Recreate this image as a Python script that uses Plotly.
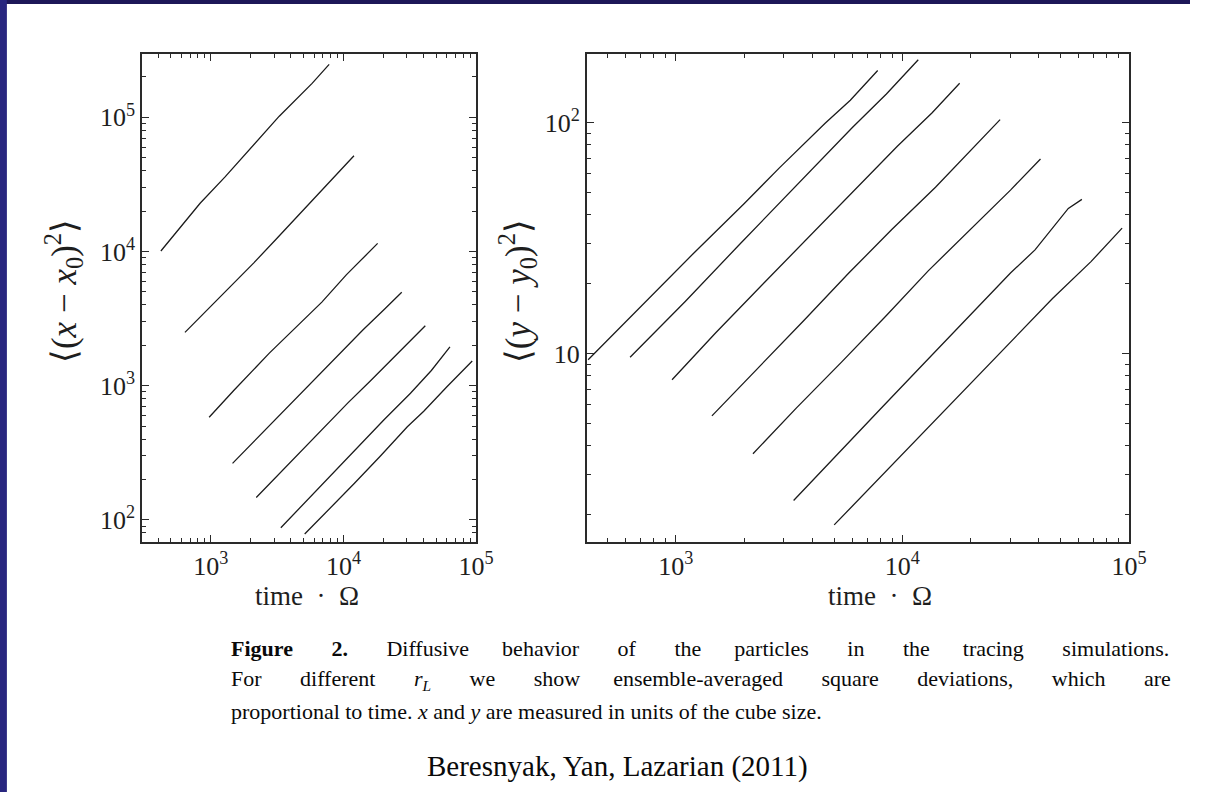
import plotly.graph_objects as go

# ---------------- data ----------------
# left panel: <(x-x0)^2> vs time*Omega, one run per r_L
xl_t1 = [420, 600, 830, 1280, 2000, 3280, 5800, 7800]
xl_v1 = [1.01e4, 1.55e4, 2.29e4, 3.6e4, 5.9e4, 1.02e5, 1.79e5, 2.48e5]
xl_t2 = [638, 950, 1390, 2100, 3090, 4400, 6140, 8600, 12000]
xl_v2 = [2.5e3, 3.7e3, 5.47e3, 8.2e3, 1.23e4, 1.78e4, 2.56e4, 3.65e4, 5.17e4]
xl_t3 = [971, 1500, 2760, 4500, 6870, 10500, 18100]
xl_v3 = [582, 930, 1.75e3, 2.8e3, 4.2e3, 6.7e3, 1.15e4]
xl_t4 = [1457, 2300, 3700, 6000, 9500, 14000, 20000, 27500]
xl_v4 = [264, 420, 680, 1.1e3, 1.75e3, 2.6e3, 3.65e3, 4.97e3]
xl_t5 = [2200, 3500, 5500, 8000, 10800, 16000, 26000, 41400]
xl_v5 = [147, 236, 375, 548, 745, 1.09e3, 1.76e3, 2.8e3]
xl_t6 = [3370, 5200, 8000, 12500, 20300, 32000, 46000, 63500]
xl_v6 = [87.5, 137, 215, 335, 560, 880, 1.3e3, 1.95e3]
xl_t7 = [5100, 7800, 12000, 19000, 30300, 40300, 60000, 93500]
xl_v7 = [78.5, 120, 186, 300, 495, 645, 980, 1.53e3]

# right panel: <(y-y0)^2> vs time*Omega
yr_t1 = [410, 700, 1217, 2000, 2857, 4560, 5890, 7780]
yr_v1 = [9.4, 16, 27.6, 44.5, 63.5, 99.4, 125, 168]
yr_t2 = [628, 1100, 1900, 3770, 6000, 8500, 11750]
yr_v2 = [9.64, 16.8, 29.5, 59.4, 95, 133, 187]
yr_t3 = [962, 1500, 2400, 3800, 6000, 9500, 13500, 17900]
yr_v3 = [7.7, 12.3, 19.8, 31.5, 50, 79, 110, 148]
yr_t4 = [1443, 2300, 3700, 5800, 9000, 14000, 20000, 27000]
yr_v4 = [5.37, 8.6, 14.0, 22.3, 34.5, 52.5, 76, 103]
yr_t5 = [2190, 3400, 5400, 8500, 13000, 20000, 30000, 40700]
yr_v5 = [3.68, 5.8, 9.2, 14.6, 22.8, 34.5, 51, 69.6]
yr_t6 = [3310, 5000, 8000, 12500, 19000, 30000, 38500, 54000, 62000]
yr_v6 = [2.31, 3.55, 5.75, 9.1, 13.9, 22.3, 28.1, 42.5, 46.5]
yr_t7 = [5000, 7800, 12000, 19000, 30000, 46000, 68000, 93300]
yr_v7 = [1.81, 2.85, 4.4, 7.0, 11.2, 17.3, 25.0, 34.9]

left_runs = [(xl_t1, xl_v1), (xl_t2, xl_v2), (xl_t3, xl_v3), (xl_t4, xl_v4),
             (xl_t5, xl_v5), (xl_t6, xl_v6), (xl_t7, xl_v7)]
right_runs = [(yr_t1, yr_v1), (yr_t2, yr_v2), (yr_t3, yr_v3), (yr_t4, yr_v4),
              (yr_t5, yr_v5), (yr_t6, yr_v6), (yr_t7, yr_v7)]

x_major = [1e3, 1e4, 1e5]
x_major_text = ["10<sup>3</sup>", "10<sup>4</sup>", "10<sup>5</sup>"]
yl_major = [1e2, 1e3, 1e4, 1e5]
yl_major_text = ["10<sup>2</sup>", "10<sup>3</sup>", "10<sup>4</sup>", "10<sup>5</sup>"]
yr_major = [10, 100]
yr_major_text = ["10", "10<sup>2</sup>"]

# ---------------- figure ----------------
W, H = 1208, 792
LINE = dict(color="#1c1c1c", width=1.3)
SERIF = "Liberation Serif"
INK = "#1e1e1e"

fig = go.Figure()
for t, v in left_runs:
    fig.add_trace(go.Scatter(x=t, y=v, mode="lines", line=LINE,
                             xaxis="x", yaxis="y", showlegend=False, hoverinfo="skip"))
for t, v in right_runs:
    fig.add_trace(go.Scatter(x=t, y=v, mode="lines", line=LINE,
                             xaxis="x2", yaxis="y2", showlegend=False, hoverinfo="skip"))


def minor_vals(e0, e1):
    return [m * 10 ** e for e in range(e0, e1) for m in range(2, 10)]


def log_axis(rng, domain, anchor, tickvals, ticktext, minors):
    return dict(
        type="log", range=rng, domain=domain, anchor=anchor,
        showline=True, linecolor="#2a2a2a", linewidth=1.8, mirror="ticks",
        ticks="inside", ticklen=7, tickwidth=1.2, tickcolor="#2a2a2a",
        tickmode="array", tickvals=tickvals, ticktext=ticktext,
        tickfont=dict(family=SERIF, size=26, color=INK),
        minor=dict(ticks="inside", ticklen=4, tickwidth=1, tickcolor="#2a2a2a",
                   tickmode="array", tickvals=minors, showgrid=False),
        showgrid=False, zeroline=False,
    )


ydom = [1 - 541.7 / H, 1 - 54 / H]
fig.update_layout(
    width=W, height=H, autosize=False, margin=dict(l=0, r=0, t=0, b=0),
    paper_bgcolor="white", plot_bgcolor="white",
    xaxis=log_axis([2.482, 5.0], [144.3 / W, 483.3 / W], "y", x_major, x_major_text, minor_vals(2, 5)),
    yaxis=log_axis([1.838, 5.472], ydom, "x", yl_major, yl_major_text, minor_vals(1, 6)),
    xaxis2=log_axis([2.607, 5.0], [595.7 / W, 1146 / W], "y2", x_major, x_major_text, minor_vals(2, 5)),
    yaxis2=log_axis([0.185, 2.297], ydom, "x2", yr_major, yr_major_text, minor_vals(0, 3)),
)

# slide border (navy) on top and left
fig.add_shape(type="rect", xref="paper", yref="paper", x0=0, x1=1, y0=1 - 4 / H, y1=1,
              line=dict(width=0), fillcolor="#1d1858")
fig.add_shape(type="rect", xref="paper", yref="paper", x0=0, x1=7 / W, y0=0, y1=1,
              line=dict(width=0), fillcolor="#28267f")

ann = []
# axis titles
for cx in [312, 893]:
    ann.append(dict(x=cx / W, y=1 - 596 / H, xref="paper", yref="paper", showarrow=False,
                    text="time\u00a0\u00a0·\u00a0\u00a0Ω", font=dict(family=SERIF, size=27, color=INK),
                    xanchor="center", yanchor="middle"))
ann.append(dict(x=64 / W, y=1 - 291 / H, xref="paper", yref="paper", showarrow=False, textangle=-90,
                text="⟨(<i>x</i>\u00a0−\u00a0<i>x</i><sub>0</sub>)<sup>2</sup>⟩",
                font=dict(family=SERIF, size=35, color=INK), xanchor="center", yanchor="middle"))
ann.append(dict(x=525 / W, y=1 - 291 / H, xref="paper", yref="paper", showarrow=False, textangle=-90,
                text="⟨(<i>y</i>\u00a0−\u00a0<i>y</i><sub>0</sub>)<sup>2</sup>⟩",
                font=dict(family=SERIF, size=35, color=INK), xanchor="center", yanchor="middle"))


def justify(words, gaps):
    out = words[0]
    for w, g in zip(words[1:], gaps):
        out += "\u00a0" * g + w
    return out


line1 = justify(["<b>Figure</b>", "<b>2.</b>", "Diffusive", "behavior", "of", "the", "particles",
                 "in", "the", "tracing", "simulations."], [7, 7, 6, 7, 7, 6, 7, 7, 6, 7])
line2 = justify(["For", "different", "<i>r</i><sub><i>L</i></sub>", "we", "show", "ensemble-averaged",
                 "square", "deviations,", "which", "are"], [7, 7, 7, 7, 6, 7, 7, 7, 7])
line3 = "proportional to time. <i>x</i> and <i>y</i> are measured in units of the cube size."

for txt, yc in [(line1, 648), (line2, 680), (line3, 711)]:
    ann.append(dict(x=232 / W, y=1 - yc / H, xref="paper", yref="paper", showarrow=False, text=txt,
                    font=dict(family=SERIF, size=22, color="#0a0a0a"), xanchor="left", yanchor="middle"))
ann.append(dict(x=627 / W, y=1 - 766 / H, xref="paper", yref="paper", showarrow=False,
                text="Beresnyak, Yan, Lazarian (2011)",
                font=dict(family=SERIF, size=29, color="#0a0a0a"), xanchor="center", yanchor="middle"))

fig.update_layout(annotations=ann)
fig.write_html("out.html", config={"displayModeBar": False})
